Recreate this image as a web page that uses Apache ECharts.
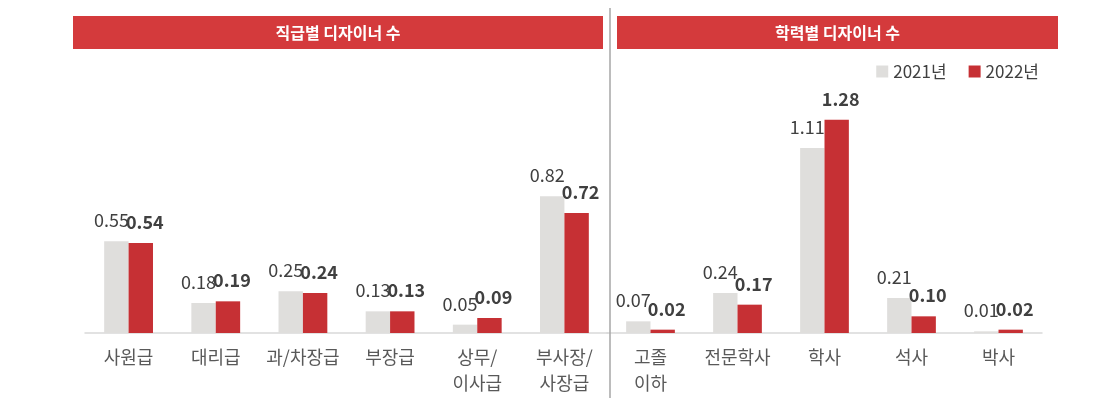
<!DOCTYPE html>
<html>
<head>
<meta charset="utf-8">
<style>
  html, body { margin: 0; padding: 0; background: #ffffff; }
  #chart { width: 1114px; height: 401px; }
</style>
<script src="https://cdn.jsdelivr.net/npm/echarts@6/dist/echarts.min.js"></script>
</head>
<body>
<div id="chart"></div>
<script>
// 직급별 / 학력별 디자이너 수 (2021년 vs 2022년)
const panelTitles = ['직급별 디자이너 수', '학력별 디자이너 수'];
const seriesNames = ['2021년', '2022년'];

const rankCategories = ['사원급', '대리급', '과/차장급', '부장급', '상무/\n이사급', '부사장/\n사장급'];
const rank2021 = [0.55, 0.18, 0.25, 0.13, 0.05, 0.82];
const rank2022 = [0.54, 0.19, 0.24, 0.13, 0.09, 0.72];

const eduCategories = ['고졸\n이하', '전문학사', '학사', '석사', '박사'];
const edu2021 = [0.07, 0.24, 1.11, 0.21, 0.01];
const edu2022 = [0.02, 0.17, 1.28, 0.10, 0.02];

const FONT = '"Noto Sans CJK KR", "Noto Sans", sans-serif';
const GRAY = '#dfdedc';
const RED = '#c63034';
const HEADER_RED = '#d43a3c';
const TEXT = '#404040';

const chart = echarts.init(document.getElementById('chart'), null, { renderer: 'canvas' });

function xAxisFor(gridIndex, cats) {
  return {
    type: 'category',
    gridIndex: gridIndex,
    data: cats,
    axisTick: { show: false },
    axisLine: { show: true, lineStyle: { color: '#d9d9d9', width: 1.5 } },
    axisLabel: {
      color: '#595959',
      fontFamily: FONT,
      fontSize: 18,
      lineHeight: 26,
      margin: 11,
      interval: 0
    }
  };
}

function yAxisFor(gridIndex) {
  return {
    type: 'value',
    gridIndex: gridIndex,
    min: 0,
    max: 1.5,
    show: false,
    splitLine: { show: false }
  };
}

// one bar series; 2021 labels lean left, bold 2022 labels lean right
function barSeries(name, xi, data, color, bold, dx) {
  return {
    name: name,
    type: 'bar',
    xAxisIndex: xi,
    yAxisIndex: xi,
    data: data,
    barGap: '0%',
    barCategoryGap: '44%',
    itemStyle: { color: color },
    label: {
      show: true,
      position: 'top',
      distance: 12,
      offset: [dx, 0],
      formatter: (p) => p.value.toFixed(2),
      color: TEXT,
      fontFamily: FONT,
      fontSize: 18,
      fontWeight: bold ? 'bold' : 'normal'
    }
  };
}

function headerText(text, cx) {
  return {
    type: 'text', z: 11,
    position: [cx, 32.5],
    style: {
      text: text, fill: '#ffffff', font: 'bold 16px ' + FONT,
      x: 0, y: 0, align: 'center', verticalAlign: 'middle'
    }
  };
}

const option = {
  animation: false,
  backgroundColor: '#ffffff',
  textStyle: { fontFamily: FONT },
  legend: {
    data: seriesNames,
    right: 70,
    top: 58,
    itemWidth: 12,
    itemHeight: 12,
    itemGap: 22,
    icon: 'rect',
    textStyle: { color: TEXT, fontFamily: FONT, fontSize: 17 }
  },
  grid: [
    { left: 85, right: 506, top: 83, bottom: 68, containLabel: false },
    { left: 607, right: 72, top: 83, bottom: 68, containLabel: false }
  ],
  xAxis: [xAxisFor(0, rankCategories), xAxisFor(1, eduCategories)],
  yAxis: [yAxisFor(0), yAxisFor(1)],
  series: [
    barSeries(seriesNames[0], 0, rank2021, GRAY, false, -5),
    barSeries(seriesNames[1], 0, rank2022, RED, true, 4),
    barSeries(seriesNames[0], 1, edu2021, GRAY, false, -5),
    barSeries(seriesNames[1], 1, edu2022, RED, true, 4)
  ],
  graphic: [
    // panel header bars
    {
      type: 'rect', left: 73, top: 16, z: 10,
      shape: { width: 530, height: 33 },
      style: { fill: HEADER_RED }
    },
    headerText(panelTitles[0], 338),
    {
      type: 'rect', left: 617, top: 16, z: 10,
      shape: { width: 441, height: 33 },
      style: { fill: HEADER_RED }
    },
    headerText(panelTitles[1], 837.5),
    // divider between the two panels
    {
      type: 'line', z: 5,
      shape: { x1: 610, y1: 8, x2: 610, y2: 398 },
      style: { stroke: '#a6a6a6', lineWidth: 1.5 }
    }
  ]
};

chart.setOption(option);
</script>
</body>
</html>
